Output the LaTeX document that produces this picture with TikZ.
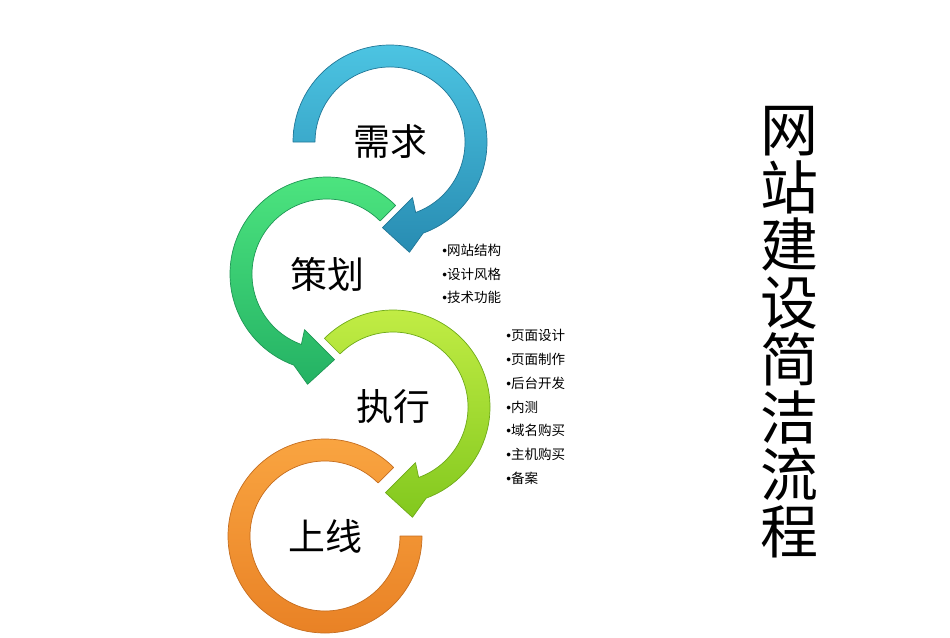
\documentclass[tikz,border=0pt]{standalone}
\usepackage{fontspec}
\newfontfamily\cjk{Noto Sans CJK SC}
\newfontfamily\dotfont{Liberation Sans}
\newcommand\itemdot{{\dotfont •}}
\definecolor{needtop}{RGB}{76,196,226}
\definecolor{needbot}{RGB}{40,140,178}
\definecolor{plantop}{RGB}{78,230,128}
\definecolor{planbot}{RGB}{36,178,100}
\definecolor{exectop}{RGB}{196,238,70}
\definecolor{execbot}{RGB}{130,200,30}
\definecolor{livetop}{RGB}{250,166,66}
\definecolor{livebot}{RGB}{232,128,36}
\begin{document}
\begin{tikzpicture}[x=0.02cm,y=0.02cm,
    ring/.style={line width=0.4pt,line join=round},
    stage/.style={font=\cjk\fontsize{21}{21}\selectfont,inner sep=0pt},
    items/.style={font=\cjk\fontsize{7.7}{13.5}\selectfont,align=left,anchor=west,inner sep=0pt},
    title/.style={font=\cjk\fontsize{33}{32.7}\selectfont,align=center,inner sep=0pt}]
  \useasboundingbox (0,0) rectangle (950,637);
  \coordinate (need) at (390,495);
  \coordinate (plan) at (327,363);
  \coordinate (exec) at (393,230);
  \coordinate (live) at (325,101);
  \begin{scope}[shift={(need)}]
    \path[ring,top color=needtop,bottom color=needbot,draw=needbot!85!black]
      (180:97) arc[start angle=180,end angle=-70,radius=97] -- (-80:112) -- (-95:86)
      -- (-68:60) -- (-70:75) arc[start angle=-70,end angle=180,radius=75] -- cycle;
  \end{scope}
  \begin{scope}[shift={(plan)}]
    \path[ring,top color=plantop,bottom color=planbot,draw=planbot!85!black]
      (45:97) arc[start angle=45,end angle=250,radius=97] -- (260:112) -- (275:86)
      -- (248:60) -- (250:75) arc[start angle=250,end angle=45,radius=75] -- cycle;
  \end{scope}
  \begin{scope}[shift={(exec)}]
    \path[ring,top color=exectop,bottom color=execbot,draw=execbot!85!black]
      (135:97) arc[start angle=135,end angle=-70,radius=97] -- (-80:112) -- (-95:86)
      -- (-68:60) -- (-70:75) arc[start angle=-70,end angle=135,radius=75] -- cycle;
  \end{scope}
  \begin{scope}[shift={(live)}]
    \path[ring,top color=livetop,bottom color=livebot,draw=livebot!85!black]
      (45:97) arc[start angle=45,end angle=360,radius=97]
      -- (0:75) arc[start angle=360,end angle=45,radius=75] -- cycle;
  \end{scope}
  \node[stage] (needtxt) at (need) {需求};
  \node[stage] (plantxt) at (plan) {策划};
  \node[stage] (exectxt) at (exec) {执行};
  \node[stage] (livetxt) at (live) {上线};
  \node[items] (planlist) at (442,363) {\itemdot{}网站结构\\\itemdot{}设计风格\\\itemdot{}技术功能};
  \node[items] (execlist) at (506,230) {\itemdot{}页面设计\\\itemdot{}页面制作\\\itemdot{}后台开发\\\itemdot{}内测\\\itemdot{}域名购买\\\itemdot{}主机购买\\\itemdot{}备案};
  \node[title] (heading) at (789,304.5) {网\\站\\建\\设\\简\\洁\\流\\程};
\end{tikzpicture}
\end{document}
